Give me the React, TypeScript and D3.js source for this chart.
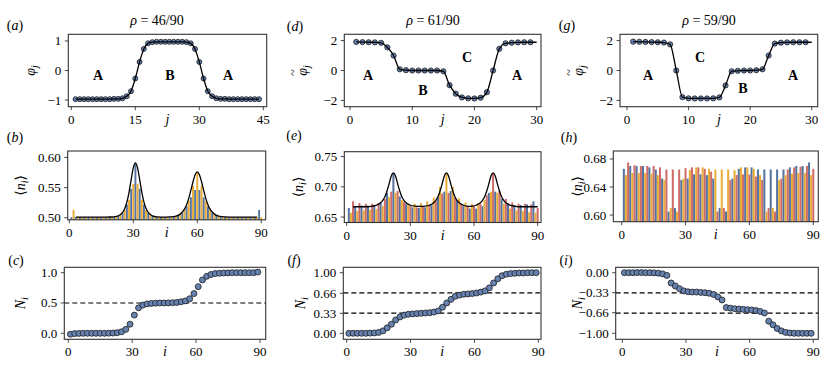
import React from 'react';
import * as d3 from 'd3';

const FONT = '"Liberation Serif", "Times New Roman", "DejaVu Serif", serif';

// ---------- data ----------
const phiA = [-0.97,-0.97,-0.97,-0.97,-0.97,-0.97,-0.97,-0.97,-0.97,-0.96,-0.96,-0.94,
  -0.87,-0.70,-0.27,0.29,0.73,0.92,0.96,
  0.97,0.97,0.97,0.97,0.97,0.97,0.97,
  0.96,0.92,0.73,0.29,-0.27,-0.70,-0.87,-0.94,-0.96,-0.96,
  -0.97,-0.97,-0.97,-0.97,-0.97,-0.97,-0.97,-0.97];
const phiD = [1.91,1.90,1.89,1.88,1.85,1.55,1.00,0.08,0.02,0.0,0.0,0.0,0.0,0.0,-0.05,
  -0.98,-1.55,-1.80,-1.86,-1.87,-1.82,-1.45,0.0,1.45,1.82,1.86,1.88,1.89,1.89];
const phiDLine = [...phiD, 1.89];
const phiG = [1.93,1.92,1.91,1.90,1.89,1.87,1.75,0.0,-1.78,-1.86,-1.87,-1.87,-1.87,-1.86,-1.80,
  -1.0,-0.05,-0.02,0.0,0.0,0.02,0.08,1.0,1.80,1.86,1.88,1.89,1.89,1.89];
const phiGLine = [...phiG, 1.89];

const nB = [0.501,0.513,
  0.501,0.501,0.501,0.501,0.501,0.501,0.501,0.501,0.501,0.501,0.501,0.501,0.501,0.501,0.501,0.501,0.501,0.501,0.501,
  0.502,0.503,0.505,0.508,0.513,0.522,0.530,0.548,0.556,0.590,0.556,0.548,0.530,0.522,0.513,0.508,0.505,0.503,0.502,
  0.501,0.501,0.501,0.501,0.501,0.501,0.501,0.501,
  0.502,0.503,0.504,0.506,0.508,0.514,0.519,0.528,0.534,0.553,0.546,0.575,0.546,0.553,0.534,0.528,0.519,0.514,0.508,0.506,0.504,0.503,0.502,
  0.501,0.501,0.501,0.501,0.501,0.501,0.501,0.501,0.501,0.501,0.501,0.501,0.501,0.501,0.501,0.501,0.501,
  0.513,0.501];
const bLineX = [3,15,19,21,23,25,26,27,28,29,30,31,32,33,34,35,36,37,39,41,45,47,50,52,54,55,56,57,58,59,60,61,62,63,64,65,66,68,70,73,77,88];
const bLineY = [0.501,0.501,0.5013,0.5017,0.5033,0.5089,0.5154,0.5259,0.5422,0.5631,0.5827,0.591,0.5827,0.5631,0.5422,0.5259,0.5154,0.5089,0.5033,0.5017,0.501,
  0.5015,0.5029,0.5061,0.5144,0.5217,0.5321,0.5454,0.5597,0.5714,0.576,0.5714,0.5597,0.5454,0.5321,0.5217,0.5144,0.5061,0.5029,0.5015,0.501,0.501];

const nE = [0.665,0.657,0.676, 0.668,0.660,0.673, 0.669,0.661,0.672, 0.669,0.662,0.672, 0.670,0.663,0.673,
  0.674,0.668,0.680, 0.690,0.683,0.692, 0.722,0.690,0.693, 0.684,0.678,0.675, 0.672,0.672,0.668,
  0.666,0.672,0.666, 0.665,0.673,0.667, 0.666,0.676,0.670, 0.671,0.682,0.676, 0.683,0.700,0.689,
  0.692,0.722,0.690, 0.693,0.700,0.682, 0.678,0.681,0.672, 0.668,0.674,0.667, 0.664,0.672,0.668,
  0.664,0.673,0.672, 0.668,0.678,0.686, 0.690,0.692,0.722, 0.692,0.690,0.693, 0.680,0.672,0.680,
  0.673,0.664,0.674, 0.670,0.661,0.672, 0.670,0.660,0.672, 0.671,0.658,0.671, 0.676,0.657,0.665];
const eLineX = [3,10,12,14,16,17,18,19,20,21,22,23,24,25,26,27,28,30,32,34.5,37,39,41,42,43,44,45,46,47,48,
  49,50,51,52,53,55,57,58,59,61,63,64,65,66,67,68,69,70,71,72,73,74,75,77,79,81,90];
const eLineY = [0.667,0.667,0.668,0.6695,0.6735,0.6775,0.6835,0.693,0.705,0.718,0.723,0.718,0.705,0.693,0.6835,0.6775,0.6735,0.6695,0.668,0.6675,
  0.668,0.6695,0.6735,0.6775,0.6835,0.693,0.705,0.718,0.723,0.718,0.705,0.693,0.6835,0.6775,0.6735,0.6695,0.668,0.6675,0.668,0.6695,
  0.6735,0.6775,0.6835,0.693,0.705,0.718,0.723,0.718,0.705,0.693,0.6835,0.6775,0.6735,0.6695,0.668,0.667,0.667];

const nH = [0.666,0.657,0.675, 0.670,0.660,0.671, 0.670,0.660,0.670, 0.670,0.660,0.670, 0.668,0.659,0.670,
  0.665,0.657,0.668, 0.652,0.650,0.665, 0.605,0.610,0.665, 0.610,0.605,0.665, 0.650,0.652,0.667,
  0.652,0.664,0.668, 0.658,0.668,0.668, 0.658,0.668,0.666, 0.657,0.666,0.662, 0.652,0.665,0.605,
  0.610,0.665,0.610, 0.605,0.665,0.650, 0.652,0.664,0.657, 0.666,0.668,0.658, 0.668,0.668,0.658,
  0.668,0.666,0.655, 0.665,0.657,0.650, 0.665,0.605,0.610, 0.665,0.610,0.605, 0.665,0.650,0.652,
  0.665,0.657,0.665, 0.668,0.659,0.668, 0.670,0.660,0.669, 0.670,0.660,0.670, 0.675,0.657,0.666];

const nC = [-0.015,-0.005,-0.002,0,0,0,0,0,0,
  0.002,0.004,0.01,0.025,0.065,0.15,0.30,0.42,0.465,0.485,0.493,0.497,0.5,0.5,0.502,0.505,0.51,0.52,0.535,0.57,
  0.655,0.77,0.88,0.94,0.97,0.985,0.99,0.995,0.997,1.0,1.0,1.0,1.0,1.0,1.0,1.01];
const nF = [0,0,0,0,0,
  0.003,0.006,0.015,0.04,0.09,0.15,0.22,0.27,0.30,0.315,0.32,0.325,0.33,0.335,0.34,0.35,0.37,0.43,0.50,0.56,
  0.61,0.63,0.645,0.65,0.655,0.665,0.68,0.70,0.75,0.83,0.90,0.95,0.975,0.985,0.99,0.995,0.995,1.0,1.0,1.0];
const nI = [0,0,0,0.002,0.002,0,0,-0.003,-0.008,-0.02,-0.045,
  -0.17,-0.22,-0.265,-0.30,-0.315,-0.32,-0.32,-0.325,-0.33,-0.34,-0.36,-0.40,-0.45,
  -0.575,-0.585,-0.595,-0.60,-0.605,-0.61,-0.615,-0.625,-0.64,-0.665,
  -0.80,-0.86,-0.92,-0.96,-0.985,-0.995,-1.0,-1.0,-1.0,-1.0,-1.0];

const ticks45 = [0, 15, 30, 45];
const ticks30 = [0, 10, 20, 30];
const ticks90 = [0, 30, 60, 90];
const yTicksA = [-1, 0, 1];
const yTicksDG = [-2, 0, 2];
const yTicksB = [0.5, 0.55, 0.6];
const yTicksE = [0.65, 0.7, 0.75];
const yTicksH = [0.6, 0.64, 0.68];
const yTicksC = [0, 0.5, 1];
const yTicksF = [0, 0.33, 0.66, 1];
const yTicksI = [-1, -0.66, -0.33, 0];

// ---------- styling ----------
const BLUE = '#56739f';
const ORANGE = '#e9ad36';
const RED = '#d06c67';
const DOT = '#6582b1';
const AX = '#333';
const TS: React.CSSProperties = { fontFamily: FONT };

type Box = { l: number; r: number; t: number; b: number };
type Sc = d3.ScaleLinear<number, number>;

const fmt = (v: number, d: number) => {
  const s = Math.abs(v).toFixed(d);
  return (v < 0 ? '\u2212' : '') + s;
};

function Axes(props: {
  box: Box; xd: [number, number]; yd: [number, number];
  xticks: number[]; yticks: number[]; ydec: number; xlabel: string;
  children: (x: Sc, y: Sc) => React.ReactNode;
}) {
  const { box, xd, yd, xticks, yticks, ydec, xlabel, children } = props;
  const x = d3.scaleLinear().domain(xd).range([box.l, box.r]);
  const y = d3.scaleLinear().domain(yd).range([box.b, box.t]);
  return (
    <g>
      {children(x, y)}
      <rect x={box.l} y={box.t} width={box.r - box.l} height={box.b - box.t} fill="none" stroke={AX} strokeWidth={1.1} />
      {xticks.map((v) => (
        <g key={'x' + v}>
          <line x1={x(v)} x2={x(v)} y1={box.b} y2={box.b + 3.5} stroke={AX} strokeWidth={0.9} />
          <text style={TS} x={x(v)} y={box.b + 17} textAnchor="middle" fontSize={13}>{String(v)}</text>
        </g>
      ))}
      {yticks.map((v) => (
        <g key={'y' + v}>
          <line x1={box.l - 3.5} x2={box.l} y1={y(v)} y2={y(v)} stroke={AX} strokeWidth={0.9} />
          <text style={TS} x={box.l - 7} y={y(v) + 4.5} textAnchor="end" fontSize={13}>{fmt(v, ydec)}</text>
        </g>
      ))}
      <text style={TS} x={(box.l + box.r) / 2} y={box.b + 17} textAnchor="middle" fontSize={14} fontStyle="italic">{xlabel}</text>
    </g>
  );
}

function Dots({ xs, ys, x, y, r }: { xs: number[]; ys: number[]; x: Sc; y: Sc; r: number }) {
  return (
    <g>
      {ys.map((v, k) => (
        <circle key={k} cx={x(xs[k])} cy={y(v)} r={r} fill={DOT} stroke="#1e1e1e" strokeWidth={0.8} />
      ))}
    </g>
  );
}

function Curve({ xs, ys, x, y }: { xs: number[]; ys: number[]; x: Sc; y: Sc }) {
  const gen = d3.line<number>().x((_, k) => x(xs[k])).y((v) => y(v)).curve(d3.curveMonotoneX);
  return <path d={gen(ys) || ''} fill="none" stroke="#000" strokeWidth={1.3} />;
}

function Bars({ vals, x, y, bottom, colorOf, w }: { vals: number[]; x: Sc; y: Sc; bottom: number; colorOf: (i: number) => string; w: number }) {
  return (
    <g>
      {vals.map((v, k) => {
        const i = k + 1;
        const x0 = x(i - w / 2);
        const x1 = x(i + w / 2);
        return <rect key={k} x={x0} y={y(v)} width={x1 - x0} height={Math.max(0, bottom - y(v))} fill={colorOf(i)} />;
      })}
    </g>
  );
}

function HLine({ v, x, y, xd }: { v: number; x: Sc; y: Sc; xd: [number, number] }) {
  return <line x1={x(xd[0])} x2={x(xd[1])} y1={y(v)} y2={y(v)} stroke="#000" strokeWidth={1.1} strokeDasharray="5,3" />;
}

function YLabel({ cx, cy, kind }: { cx: number; cy: number; kind: string }) {
  let content: React.ReactNode = null;
  let tilde = false;
  if (kind === 'phi' || kind === 'phit') {
    content = (<><tspan fontStyle="italic">φ</tspan><tspan fontStyle="italic" fontSize={10} dy={3}>j</tspan></>);
    tilde = kind === 'phit';
  } else if (kind === 'n') {
    content = (<><tspan>⟨</tspan><tspan fontStyle="italic">n</tspan><tspan fontStyle="italic" fontSize={10} dy={3}>i</tspan><tspan dy={-3}>⟩</tspan></>);
  } else {
    content = (<><tspan fontStyle="italic">N</tspan><tspan fontStyle="italic" fontSize={10} dy={3}>i</tspan></>);
  }
  return (
    <g transform={`translate(${cx},${cy}) rotate(-90)`}>
      <text style={TS} y={4.5} textAnchor="middle" fontSize={14}>{content}</text>
      {tilde && <text style={TS} x={-2} y={-5} textAnchor="middle" fontSize={12}>~</text>}
    </g>
  );
}

function PLabel({ cx, cy, ch }: { cx: number; cy: number; ch: string }) {
  return (
    <text style={TS} x={cx} y={cy + 4.5} textAnchor="middle" fontSize={14}>
      <tspan>(</tspan><tspan fontStyle="italic">{ch}</tspan><tspan>)</tspan>
    </text>
  );
}

function Title({ cx, cy, frac }: { cx: number; cy: number; frac: string }) {
  return (
    <text style={TS} x={cx} y={cy + 4.5} textAnchor="middle" fontSize={14}>
      <tspan fontStyle="italic">ρ</tspan><tspan>{' = ' + frac}</tspan>
    </text>
  );
}

function Region({ cx, cy, s }: { cx: number; cy: number; s: string }) {
  return <text style={TS} x={cx} y={cy + 4.8} textAnchor="middle" fontSize={14} fontWeight="bold">{s}</text>;
}

const jA = d3.range(1, phiA.length + 1);
const jD = d3.range(1, phiD.length + 1);
const jDL = d3.range(1, phiDLine.length + 1);
const jG = d3.range(1, phiG.length + 1);
const jGL = d3.range(1, phiGLine.length + 1);
const iOdd = d3.range(1, 90, 2);

const bColor = (i: number) => (i % 2 === 1 ? BLUE : ORANGE);
const triColor = (i: number) => (i % 3 === 1 ? BLUE : i % 3 === 2 ? ORANGE : RED);

export default function App() {
  const boxA: Box = { l: 68.3, r: 266.7, t: 34.3, b: 106.7 };
  const boxD: Box = { l: 344.3, r: 541, t: 34.3, b: 106.7 };
  const boxG: Box = { l: 620, r: 817.7, t: 34.3, b: 106.7 };
  const boxB: Box = { l: 67.7, r: 265.7, t: 151, b: 219.8 };
  const boxE: Box = { l: 344.3, r: 541, t: 151.7, b: 222.5 };
  const boxH: Box = { l: 613.3, r: 818.3, t: 151, b: 221.7 };
  const boxC: Box = { l: 64.3, r: 265.7, t: 267.3, b: 339.3 };
  const boxF: Box = { l: 343.3, r: 541, t: 267.3, b: 339.3 };
  const boxI: Box = { l: 615.7, r: 818.3, t: 267.3, b: 339.3 };
  const xdC: [number, number] = [-1.88, 92.7];
  const xdF: [number, number] = [-1.6, 91.26];
  const xdI: [number, number] = [-3.11, 92.37];
  return (
    <svg width={830} height={368} style={{ position: 'absolute', left: 0, top: 0, background: '#fff', fontFamily: FONT }}>
      <rect x={0} y={0} width={830} height={368} fill="#fff" />
      <Title cx={157} cy={20} frac="46/90" />
      <Title cx={433} cy={20} frac="61/90" />
      <Title cx={709} cy={20} frac="59/90" />

      <PLabel cx={15} cy={25} ch="a" />
      <PLabel cx={15} cy={137} ch="b" />
      <PLabel cx={16} cy={260} ch="c" />
      <PLabel cx={295} cy={26} ch="d" />
      <PLabel cx={294} cy={135} ch="e" />
      <PLabel cx={294} cy={260} ch="f" />
      <PLabel cx={567} cy={25} ch="g" />
      <PLabel cx={569} cy={137} ch="h" />
      <PLabel cx={566} cy={260} ch="i" />

      {/* (a) */}
      <Axes box={boxA} xd={[-0.7, 45.8]} yd={[-1.225, 1.225]} xticks={ticks45} yticks={yTicksA} ydec={0} xlabel="j">
        {(x, y) => (<>
          <Dots xs={jA} ys={phiA} x={x} y={y} r={2.5} />
          <Curve xs={jA} ys={phiA} x={x} y={y} />
        </>)}
      </Axes>
      <YLabel cx={30} cy={70.5} kind="phi" />
      <Region cx={98} cy={75} s="A" />
      <Region cx={170} cy={75} s="B" />
      <Region cx={228} cy={75} s="A" />

      {/* (d) */}
      <Axes box={boxD} xd={[-0.92, 30.7]} yd={[-2.42, 2.42]} xticks={ticks30} yticks={yTicksDG} ydec={0} xlabel="j">
        {(x, y) => (<>
          <Dots xs={jD} ys={phiD} x={x} y={y} r={2.6} />
          <Curve xs={jDL} ys={phiDLine} x={x} y={y} />
        </>)}
      </Axes>
      <YLabel cx={302} cy={70.5} kind="phit" />
      <Region cx={368} cy={75} s="A" />
      <Region cx={423} cy={90} s="B" />
      <Region cx={467} cy={57} s="C" />
      <Region cx={517} cy={75} s="A" />

      {/* (g) */}
      <Axes box={boxG} xd={[-1.14, 30.97]} yd={[-2.42, 2.42]} xticks={ticks30} yticks={yTicksDG} ydec={0} xlabel="j">
        {(x, y) => (<>
          <Dots xs={jG} ys={phiG} x={x} y={y} r={2.6} />
          <Curve xs={jGL} ys={phiGLine} x={x} y={y} />
        </>)}
      </Axes>
      <YLabel cx={578} cy={70.5} kind="phit" />
      <Region cx={648} cy={75} s="A" />
      <Region cx={700} cy={57} s="C" />
      <Region cx={743} cy={88} s="B" />
      <Region cx={793} cy={75} s="A" />

      {/* (b) */}
      <Axes box={boxB} xd={[-0.75, 92.08]} yd={[0.4967, 0.6106]} xticks={ticks90} yticks={yTicksB} ydec={2} xlabel="i">
        {(x, y) => (<>
          <Bars vals={nB} x={x} y={y} bottom={boxB.b} colorOf={bColor} w={0.9} />
          <Curve xs={bLineX} ys={bLineY} x={x} y={y} />
        </>)}
      </Axes>
      <YLabel cx={20} cy={185.4} kind="n" />

      {/* (e) */}
      <Axes box={boxE} xd={[-1.13, 91.57]} yd={[0.641, 0.758]} xticks={ticks90} yticks={yTicksE} ydec={2} xlabel="i">
        {(x, y) => (<>
          <Bars vals={nE} x={x} y={y} bottom={boxE.b} colorOf={triColor} w={0.95} />
          <Curve xs={eLineX} ys={eLineY} x={x} y={y} />
        </>)}
      </Axes>
      <YLabel cx={298} cy={187} kind="n" />

      {/* (h) */}
      <Axes box={boxH} xd={[-3.95, 92.35]} yd={[0.5905, 0.6914]} xticks={ticks90} yticks={yTicksH} ydec={2} xlabel="i">
        {(x, y) => (<>
          <Bars vals={nH} x={x} y={y} bottom={boxH.b} colorOf={triColor} w={0.95} />
        </>)}
      </Axes>
      <YLabel cx={577} cy={186.3} kind="n" />

      {/* (c) */}
      <Axes box={boxC} xd={xdC} yd={[-0.099, 1.089]} xticks={ticks90} yticks={yTicksC} ydec={1} xlabel="i">
        {(x, y) => (<>
          <HLine v={0.5} x={x} y={y} xd={xdC} />
          <Dots xs={iOdd} ys={nC} x={x} y={y} r={3} />
        </>)}
      </Axes>
      <YLabel cx={20} cy={303.3} kind="N" />

      {/* (f) */}
      <Axes box={boxF} xd={xdF} yd={[-0.099, 1.089]} xticks={ticks90} yticks={yTicksF} ydec={2} xlabel="i">
        {(x, y) => (<>
          <HLine v={1 / 3} x={x} y={y} xd={xdF} />
          <HLine v={2 / 3} x={x} y={y} xd={xdF} />
          <Dots xs={iOdd} ys={nF} x={x} y={y} r={3} />
        </>)}
      </Axes>
      <YLabel cx={300} cy={303.3} kind="N" />

      {/* (i) */}
      <Axes box={boxI} xd={xdI} yd={[-1.099, 0.089]} xticks={ticks90} yticks={yTicksI} ydec={2} xlabel="i">
        {(x, y) => (<>
          <HLine v={-1 / 3} x={x} y={y} xd={xdI} />
          <HLine v={-2 / 3} x={x} y={y} xd={xdI} />
          <Dots xs={iOdd} ys={nI} x={x} y={y} r={3} />
        </>)}
      </Axes>
      <YLabel cx={577} cy={303.3} kind="N" />
    </svg>
  );
}
